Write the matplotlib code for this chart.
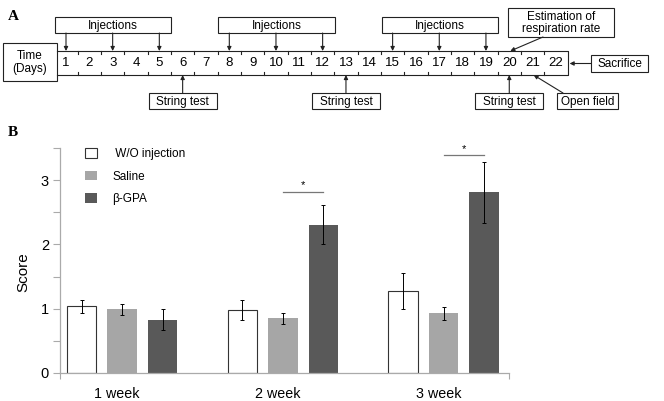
import matplotlib.pyplot as plt
import numpy as np
from matplotlib.patches import Rectangle

plt.rcParams['font.family'] = ['Liberation Sans', 'DejaVu Sans']

# ---- panel A: timeline ----
days = np.arange(1, 23)
injection_blocks = [[1, 3, 5], [8, 10, 12], [15, 17, 19]]
string_test_days = [6, 13, 20]
respiration_day = 20
open_field_day = 21
sacrifice_day = 22

# ---- panel B: scores ----
weeks = ["1 week", "2 week", "3 week"]
groups = [" W/O injection", "Saline", "β-GPA"]
score_wo = [1.04, 0.98, 1.27]
score_saline = [0.99, 0.85, 0.93]
score_gpa = [0.83, 2.31, 2.81]
err_wo = [0.10, 0.15, 0.28]
err_saline = [0.08, 0.08, 0.10]
err_gpa = [0.16, 0.30, 0.48]
sig_week = [1, 2]
sig_height = [2.82, 3.39]

W, H = 664, 401
fig = plt.figure(figsize=(W / 100, H / 100), dpi=100)

# overlay axes in pixel units for the diagram
axA = fig.add_axes([0, 0, 1, 1])
axA.set_xlim(0, W)
axA.set_ylim(H, 0)
axA.axis('off')

X0, STEP = 66, 23.33
def dx(d):
    return X0 + (d - 1) * STEP

lc = '#222222'
lw = 0.8
FS = 8.5

def box(x0, y0, x1, y1, text, fs=FS):
    axA.add_patch(Rectangle((x0, y0), x1 - x0, y1 - y0, fill=False, ec=lc, lw=lw))
    axA.text((x0 + x1) / 2, (y0 + y1) / 2 + 0.5, text, ha='center', va='center',
             fontsize=fs, linespacing=1.05)

def arrow(x0, y0, x1, y1):
    axA.annotate('', xy=(x1, y1), xytext=(x0, y0),
                 arrowprops=dict(arrowstyle='-|>', color=lc, lw=lw,
                                 mutation_scale=6, shrinkA=0, shrinkB=0))

# strip
top, bot = 51, 75
left, right = 57, dx(22.5)
axA.plot([left, right, right, left], [top, top, bot, bot], color=lc, lw=lw)
for d in days:
    axA.text(dx(d), 63, str(d), ha='center', va='center', fontsize=9.5)
for d in days[:-1]:
    xm = dx(d + 0.5)
    axA.plot([xm, xm], [top, top + 3], color=lc, lw=lw)
    axA.plot([xm, xm], [bot, bot - 3], color=lc, lw=lw)

box(3, 43, 57, 81, "Time\n(Days)")

for blk in injection_blocks:
    box(dx(blk[0]) - 11, 17, dx(blk[-1]) + 12, 33, "Injections")
    for d in blk:
        arrow(dx(d), 33, dx(d), top)

for d in string_test_days:
    box(dx(d) - 34, 93, dx(d) + 34, 109, "String test")
    arrow(dx(d), 93, dx(d), bot)

box(508, 8, 614, 37, "Estimation of\nrespiration rate")
arrow(543, 37, dx(respiration_day) + 1, top)

box(591, 55, 648, 72, "Sacrifice")
arrow(591, 63.5, right + 2, 63.5)

box(557, 93, 618, 109, "Open field")
arrow(563, 93, dx(open_field_day) + 1, bot)

axA.text(8, 16, "A", fontsize=11, fontweight='bold', family='Liberation Serif', va='center')
axA.text(8, 133, "B", fontsize=11, fontweight='bold', family='Liberation Serif', va='center')

# ---- panel B axes ----
axB = fig.add_axes([60 / W, 28 / H, 449 / W, 225 / H])
axB.patch.set_alpha(0)
x = np.arange(len(weeks))
off, bw = 0.252, 0.184
ekw = dict(ecolor='black', elinewidth=0.7, capsize=1.6, capthick=0.7)
b1 = axB.bar(x - off, score_wo, bw, color='white', edgecolor='#333333', linewidth=0.8,
             yerr=err_wo, error_kw=ekw, label=groups[0])
b2 = axB.bar(x, score_saline, bw, color='#a6a6a6', yerr=err_saline, error_kw=ekw, label=groups[1])
b3 = axB.bar(x + off, score_gpa, bw, color='#595959', yerr=err_gpa, error_kw=ekw, label=groups[2])

for w, h in zip(sig_week, sig_height):
    axB.plot([w, w + off], [h, h], color='#777777', lw=0.9, clip_on=False)
    axB.text(w + off / 2, h + 0.1, "*", ha='center', va='center', fontsize=8, clip_on=False)

axB.set_xlim(-0.386, 2.407)
axB.set_ylim(0, 3.5)
axB.set_yticks([0, 1, 2, 3])
axB.set_yticks([0.5, 1.5, 2.5, 3.5], minor=True)
axB.tick_params(axis='y', which='both', length=5, width=0.8, color='#aaaaaa',
                labelsize=10.5, pad=3)
axB.set_xticks([-0.386, 2.407])
axB.set_xticklabels(['', ''])
axB.set_xticks(x - 0.03, weeks, minor=True)
axB.tick_params(axis='x', which='major', length=4, width=0.8, color='#aaaaaa')
axB.tick_params(axis='x', which='minor', length=0, labelsize=10.3, pad=10)
for s in ['top', 'right']:
    axB.spines[s].set_visible(False)
for s in ['left', 'bottom']:
    axB.spines[s].set_color('#aaaaaa')
    axB.spines[s].set_linewidth(0.9)
axB.set_ylabel("Score", fontsize=11)
axB.yaxis.set_label_coords(-0.066, 0.45)

axB.legend(handles=[b1, b2, b3], loc='upper left', bbox_to_anchor=(0.056, 1.0),
           frameon=False, fontsize=8.5, handlelength=1.0, handleheight=0.9,
           handletextpad=1.3, labelspacing=0.9, borderpad=0, borderaxespad=0)

fig.savefig('out.png', dpi=100)
